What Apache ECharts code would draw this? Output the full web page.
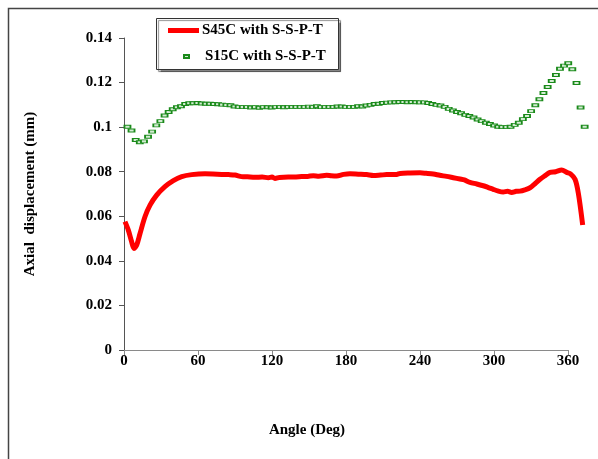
<!DOCTYPE html>
<html><head><meta charset="utf-8">
<script src="https://cdn.jsdelivr.net/npm/echarts@6/dist/echarts.min.js"></script>
<style>html,body{margin:0;padding:0;background:#fff}#c{width:598px;height:459px}</style>
</head><body><div id="c"></div><script>
// S45C with S-S-P-T (red line)
const s45Angles = [0.8,3.5,6.2,8.1,10.3,13.0,17.0,21.1,26.5,33.2,40.0,46.8,54.9,65.7,72,79.2,85,90,95.4,100,106.2,112,117,120,122.4,126,133.2,138,144.1,149,153.5,158,164.3,168,172.4,178,183.2,190,196.8,202.2,208,213,221.1,223.8,232,240,245,250.8,256,261.6,267,272.4,276,280.5,286,291.3,295,299.4,303,307.5,311,314.3,318,321.1,325,329.2,333,337.3,341,345.4,350,354.9,359,362,365.7,368.4,371.9];
const s45Values = [0.0576,0.0538,0.0486,0.0456,0.0471,0.0523,0.0598,0.0650,0.0695,0.0733,0.0760,0.0778,0.0787,0.0791,0.0790,0.0788,0.0787,0.0785,0.0778,0.0777,0.0775,0.0776,0.0773,0.0776,0.0770,0.0774,0.0776,0.0776,0.0778,0.0779,0.0782,0.0780,0.0784,0.0782,0.0781,0.0788,0.0791,0.0789,0.0787,0.0783,0.0785,0.0787,0.0788,0.0792,0.0794,0.0795,0.0793,0.0790,0.0784,0.0779,0.0773,0.0767,0.0763,0.0752,0.0745,0.0737,0.0730,0.0721,0.0714,0.0709,0.0712,0.0707,0.0712,0.0713,0.0719,0.0728,0.0745,0.0766,0.0781,0.0797,0.0800,0.0808,0.0797,0.0790,0.0766,0.0703,0.0561];
// S15C with S-S-P-T (green markers)
const s15Angles = [2.8,6.1,9.5,12.8,16.2,19.5,22.8,26.2,29.5,32.9,36.2,39.5,42.9,46.2,49.6,52.9,56.2,59.6,62.9,66.3,69.6,72.9,76.3,79.6,83.0,86.3,89.6,93.0,96.3,99.7,103.0,106.3,109.7,113.0,116.4,119.7,123.0,126.4,129.7,133.1,136.4,139.7,143.1,146.4,149.8,153.1,156.4,159.8,163.1,166.5,169.8,173.1,176.5,179.8,183.2,186.5,189.8,193.2,196.5,199.9,203.2,206.5,209.9,213.2,216.6,219.9,223.2,226.6,229.9,233.3,236.6,239.9,243.3,246.6,250.0,253.3,256.6,260.0,263.3,266.7,270.0,273.3,276.7,280.0,283.4,286.7,290.0,293.4,296.7,300.1,303.4,306.7,310.1,313.4,316.8,320.1,323.4,326.8,330.1,333.5,336.8,340.1,343.5,346.8,350.2,353.5,356.8,360.2,363.5,366.9,370.2,373.5];
const s15Values = [0.1002,0.0985,0.0942,0.0932,0.0936,0.0957,0.0980,0.1008,0.1027,0.1052,0.1068,0.1080,0.1089,0.1094,0.1104,0.1107,0.1107,0.1108,0.1106,0.1105,0.1105,0.1104,0.1103,0.1101,0.1100,0.1098,0.1093,0.1091,0.1090,0.1090,0.1088,0.1090,0.1087,0.1090,0.1089,0.1088,0.1090,0.1090,0.1089,0.1091,0.1090,0.1091,0.1091,0.1091,0.1092,0.1090,0.1094,0.1090,0.1090,0.1091,0.1091,0.1093,0.1093,0.1091,0.1091,0.1091,0.1094,0.1093,0.1097,0.1100,0.1104,0.1105,0.1108,0.1110,0.1111,0.1112,0.1113,0.1113,0.1112,0.1113,0.1112,0.1111,0.1111,0.1108,0.1104,0.1100,0.1097,0.1091,0.1082,0.1075,0.1068,0.1062,0.1055,0.1050,0.1043,0.1034,0.1027,0.1020,0.1014,0.1007,0.1002,0.1000,0.1000,0.1002,0.1010,0.1020,0.1036,0.1050,0.1072,0.1098,0.1125,0.1153,0.1180,0.1207,0.1234,0.1262,0.1276,0.1287,0.1260,0.1198,0.1088,0.1002];
const seriesNames = ['S45C with S-S-P-T', 'S15C with S-S-P-T'];
const xTitle = 'Angle (Deg)';
const yTitle = 'Axial  displacement (mm)';

const FONT = '"Liberation Serif", "Times New Roman", serif';
const FS = 15;
const zip = (a, b) => a.map((x, i) => [x, b[i]]);

// plot area: 0..360 deg maps to x 124..568; data runs a little past 360 deg
const PX_PER_DEG = 444 / 360;
const extMax = 376;

const chart = echarts.init(document.getElementById('c'), null, {renderer: 'canvas'});
chart.setOption({
  animation: false,
  backgroundColor: '#fff',
  textStyle: {fontFamily: FONT},
  grid: [
    {left: 124, top: 38, width: 444, height: 312, containLabel: false},
    {left: 124, top: 38, width: extMax * PX_PER_DEG, height: 312, containLabel: false}
  ],
  xAxis: [{
    gridIndex: 0, type: 'value', min: 0, max: 360, interval: 60,
    name: xTitle, nameLocation: 'middle', nameGap: 73,
    nameTextStyle: {fontFamily: FONT, fontWeight: 'bold', fontSize: FS, color: '#000', padding: [0, 78, 0, 0]},
    axisLine: {show: true, lineStyle: {color: '#8a8a8a', width: 1}},
    axisTick: {show: true, inside: false, length: 5, lineStyle: {color: '#8a8a8a'}},
    axisLabel: {fontFamily: FONT, fontWeight: 'bold', fontSize: FS, color: '#000', margin: 4},
    splitLine: {show: false}
  }, {
    gridIndex: 1, type: 'value', min: 0, max: extMax, show: false
  }],
  yAxis: [{
    gridIndex: 0, type: 'value', min: 0, max: 0.14, interval: 0.02,
    name: yTitle, nameLocation: 'middle', nameRotate: 90, nameGap: 86,
    nameTextStyle: {fontFamily: FONT, fontWeight: 'bold', fontSize: FS, color: '#000'},
    axisLine: {show: true, lineStyle: {color: '#555', width: 1}},
    axisTick: {show: true, inside: false, length: 5, lineStyle: {color: '#555'}},
    axisLabel: {fontFamily: FONT, fontWeight: 'bold', fontSize: FS, color: '#000', margin: 12},
    splitLine: {show: false}
  }, {
    gridIndex: 1, type: 'value', min: 0, max: 0.14, show: false
  }],
  legend: [
    {
      data: [{name: seriesNames[0], icon: 'rect'}],
      left: 168, top: 23, itemWidth: 31, itemHeight: 5, padding: 0,
      textStyle: {fontFamily: FONT, fontWeight: 'bold', fontSize: FS, color: '#000', padding: [0, 0, 0, -2]},
      z: 10
    },
    {
      data: [{name: seriesNames[1], icon: 'rect'}],
      left: 183, top: 49, itemWidth: 5, itemHeight: 3, padding: 0,
      textStyle: {fontFamily: FONT, fontWeight: 'bold', fontSize: FS, color: '#000', padding: [0, 0, 0, 11]},
      z: 10
    }
  ],
  graphic: [
    {type: 'rect', shape: {x: 8.5, y: 8.5, width: 600, height: 460}, style: {fill: 'none', stroke: '#444', lineWidth: 1.5}, silent: true, z: 0},
    {type: 'rect', shape: {x: 156.5, y: 18.5, width: 182, height: 51}, style: {fill: '#fff', stroke: '#333', lineWidth: 1, shadowColor: 'rgba(0,0,0,0.45)', shadowOffsetX: 2, shadowOffsetY: 2, shadowBlur: 1}, silent: true, z: 5}
  ],
  series: [
    {
      name: seriesNames[0], type: 'line', xAxisIndex: 1, yAxisIndex: 1,
      data: zip(s45Angles, s45Values),
      showSymbol: false, symbol: 'none', smooth: 0.3, clip: false,
      lineStyle: {color: '#ff0000', width: 5}, itemStyle: {color: '#ff0000'}, z: 3
    },
    {
      name: seriesNames[1], type: 'scatter', xAxisIndex: 1, yAxisIndex: 1,
      data: zip(s15Angles, s15Values),
      symbol: 'rect', symbolSize: [6, 3], clip: false,
      itemStyle: {color: '#d4ecd4', borderColor: '#1a8a1a', borderWidth: 1.3, opacity: 1}, z: 4
    }
  ]
});
</script></body></html>
